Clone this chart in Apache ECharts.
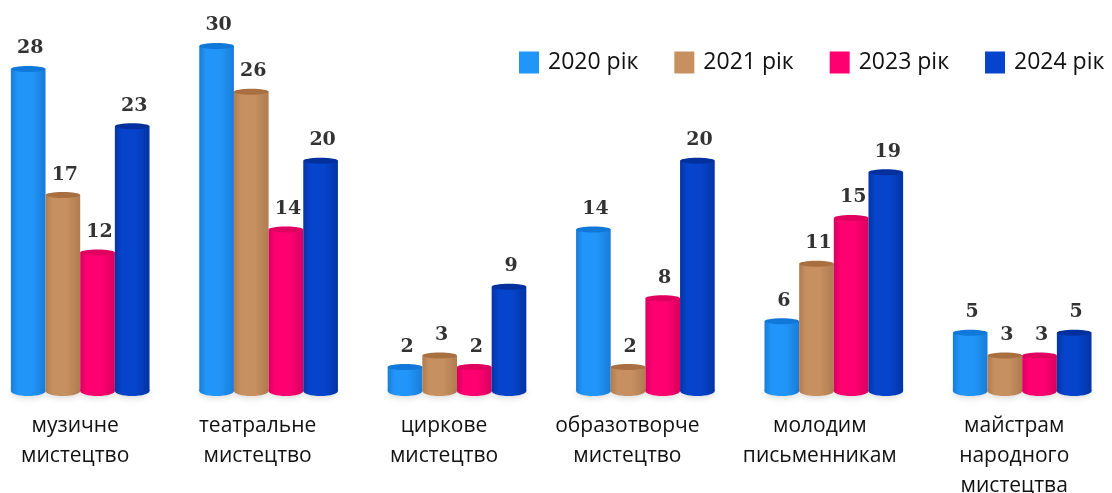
<!DOCTYPE html>
<html><head><meta charset="utf-8">
<style>html,body{margin:0;padding:0;background:#fff}#c{width:1112px;height:493px}</style>
<script src="https://cdn.jsdelivr.net/npm/echarts@6/dist/echarts.min.js"></script>
</head><body><div id="c"></div>
<script>
const categories = ['музичне\nмистецтво','театральне\nмистецтво','циркове\nмистецтво','образотворче\nмистецтво','молодим\nписьменникам','майстрам\nнародного\nмистецтва'];
const seriesNames = ['2020 рік','2021 рік','2023 рік','2024 рік'];
const v2020 = [28,30,2,14,6,5];
const v2021 = [17,26,3,2,11,3];
const v2023 = [12,14,2,8,15,3];
const v2024 = [23,20,9,20,19,5];
const allValues = [v2020,v2021,v2023,v2024];
const bodyColors = ['#2196F8','#C69060','#FF0070','#0644CC'];
const edgeColors = ['#1A7CD8','#B07C50','#D80060','#0434A4'];
const topColors = ['#0F78D8','#A87040','#E00060','#03309C'];
const labelShift = [5,11,13,18,14,8];

const chart = echarts.init(document.getElementById('c'));
const rich = {};
labelShift.forEach((s,i)=>{ rich['c'+i] = {fontFamily:'Open Sans',fontSize:21,lineHeight:30,color:'#111',padding:[0,2*s,0,0]}; });

function renderItem(si){
  return function(params, api){
    const i = api.value(0), v = api.value(1);
    const band = api.size([1,0])[0];
    const w = band*0.184;
    const base = api.coord([i,0]);
    const top = api.coord([i,v]);
    const cx = top[0] + (si-1.5)*w;
    const ry = 4;
    const grad = new echarts.graphic.LinearGradient(0,0,1,0,[
      {offset:0,color:edgeColors[si]},
      {offset:0.2,color:bodyColors[si]},
      {offset:0.6,color:bodyColors[si]},
      {offset:1,color:edgeColors[si]}
    ]);
    return {type:'group',children:[
      {type:'ellipse',shape:{cx:cx,cy:base[1]+1,rx:w/2,ry:ry+1},style:{fill:grad,shadowBlur:6,shadowColor:'rgba(0,0,0,0.15)',shadowOffsetY:2},z2:1},
      {type:'rect',shape:{x:cx-w/2,y:top[1],width:w,height:base[1]-top[1]+1},style:{fill:grad},z2:1},
      {type:'ellipse',shape:{cx:cx,cy:top[1],rx:w/2,ry:ry-1},style:{fill:topColors[si]},z2:2},
      {type:'text',x:cx+2,y:top[1]-11,style:{text:String(v),fill:'#333',font:'bold 19px "DejaVu Serif"',align:'center',verticalAlign:'bottom'},z2:3}
    ]};
  };
}

chart.setOption({
  animation:false,
  backgroundColor:'#fff',
  grid:{left:-14,width:1130.4,top:46,bottom:103,containLabel:false,outerBoundsMode:'none'},
  legend:{
    data:seriesNames,left:519,top:51,width:593,padding:0,itemWidth:20,itemHeight:22,itemGap:36,
    icon:'rect',textStyle:{fontFamily:'Open Sans',fontSize:23,color:'#111',padding:[0,0,0,4]}
  },
  xAxis:{type:'category',data:categories,
    axisLine:{show:false},axisTick:{show:false},
    axisLabel:{interval:0,margin:21,
      formatter:(val,idx)=>val.split('\n').map(l=>`{c${idx}|${l}}`).join('\n'),
      rich:rich}
  },
  yAxis:{type:'value',min:0,max:30,show:false,splitLine:{show:false}},
  series:allValues.map((vals,si)=>({
    type:'custom',name:seriesNames[si],
    itemStyle:{color:bodyColors[si]},
    clip:false,
    renderItem:renderItem(si),
    encode:{x:0,y:1},
    data:vals.map((v,i)=>[i,v])
  }))
});
</script></body></html>
